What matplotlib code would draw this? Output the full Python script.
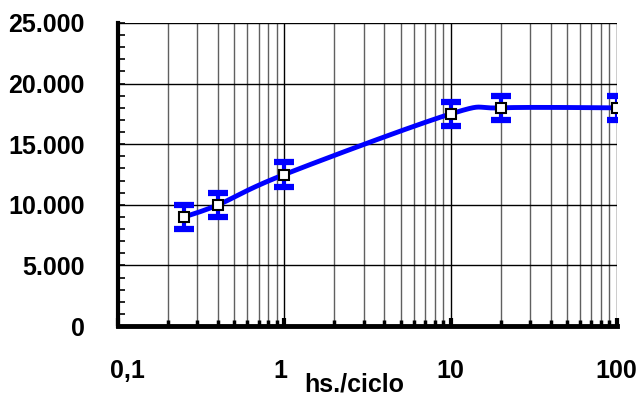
import numpy as np
import matplotlib
matplotlib.use("Agg")
import matplotlib.pyplot as plt
from matplotlib.ticker import FixedLocator, FuncFormatter, LogLocator, NullFormatter
from matplotlib.transforms import ScaledTranslation

# Data
hours = [0.25, 0.4, 1, 10, 20, 100]
values = [9000, 10000, 12500, 17500, 18000, 18000]
errors = [1000, 1000, 1000, 1000, 1000, 1000]
x_ticks = [0.1, 1, 10, 100]
x_labels = ["0,1", "1", "10", "100"]
y_ticks = [0, 5000, 10000, 15000, 20000, 25000]
y_labels = ["0", "5.000", "10.000", "15.000", "20.000", "25.000"]

FONT = ['Liberation Sans', 'DejaVu Sans']
plt.rcParams['font.family'] = FONT
plt.rcParams['font.weight'] = 'bold'
FS = 18

fig = plt.figure(figsize=(6.42, 4.03), dpi=100)
ax = fig.add_axes([118/642, 1-326/403, (617-118)/642, (326-23)/403])
ax.set_xscale('log')
ax.set_xlim(0.1, 100)
ax.set_ylim(0, 25000)

# smooth curve (Bezier through the points in display-normalised space)
lx = np.log10(hours)
ny = np.array(values) / 25000.0 * (303/166.5)
P = np.column_stack([lx, ny])
n = len(P)
curve = []
for i in range(n - 1):
    p0 = P[i - 1] if i > 0 else P[i]
    p1 = P[i]
    p2 = P[i + 1]
    p3 = P[i + 2] if i + 2 < n else P[i + 1]
    c1 = p1 + (p2 - p0) / 6.0
    c2 = p2 - (p3 - p1) / 6.0
    t = np.linspace(0, 1, 60)[:, None]
    seg = (1-t)**3*p1 + 3*(1-t)**2*t*c1 + 3*(1-t)*t**2*c2 + t**3*p2
    curve.append(seg)
curve = np.vstack(curve)
cx = 10**curve[:, 0]
cy = curve[:, 1] * 25000.0 / (303/166.5)

# grid
ax.set_axisbelow(True)
ax.xaxis.set_major_locator(FixedLocator(x_ticks))
ax.xaxis.set_minor_locator(LogLocator(base=10, subs=np.arange(2, 10)))
ax.xaxis.set_minor_formatter(NullFormatter())
ax.xaxis.set_major_formatter(FuncFormatter(lambda v, p: x_labels[x_ticks.index(v)] if v in x_ticks else ""))
ax.yaxis.set_major_locator(FixedLocator(y_ticks))
ax.yaxis.set_minor_locator(FixedLocator(np.arange(0, 25001, 1000)))
ax.set_yticklabels(y_labels)
ax.grid(True, which='major', axis='both', color='black', lw=1.0)
ax.grid(True, which='minor', axis='x', color='#606060', lw=1.0)

ax.plot(cx, cy, color='#0000ff', lw=3.5, zorder=3)
ax.errorbar(hours, values, yerr=errors, fmt='none', ecolor='#0000ff',
            elinewidth=3, capsize=7, capthick=4.5, zorder=4)
ax.plot(hours, values, ls='none', marker='s', ms=7.5, mfc='white',
        mec='black', mew=1.5, zorder=5)

for s in ['top', 'right']:
    ax.spines[s].set_visible(False)
ax.spines['left'].set_linewidth(3)
ax.spines['bottom'].set_linewidth(3.5)

ax.tick_params(axis='y', which='both', direction='in', length=5, width=1.2,
               labelsize=FS, pad=24)
ax.tick_params(axis='x', which='major', direction='in', length=6, width=3,
               labelsize=FS, pad=24)
ax.tick_params(axis='x', which='minor', direction='in', length=4, width=2.5)
for lab in ax.get_xticklabels() + ax.get_yticklabels():
    lab.set_fontweight('bold')

fig.canvas.draw()
xl = ax.get_xticklabels()
offsets = {"0,1": 9, "1": -4, "10": 0, "100": -1}
for lab in xl:
    dx = offsets.get(lab.get_text(), 0)
    lab.set_transform(lab.get_transform() + ScaledTranslation(dx/100, 0, fig.dpi_scale_trans))

fig.text(354/642, 1-385/403, "hs./ciclo", fontsize=FS, fontweight='bold',
         ha='center', va='center')

fig.savefig("out.png", dpi=100)
